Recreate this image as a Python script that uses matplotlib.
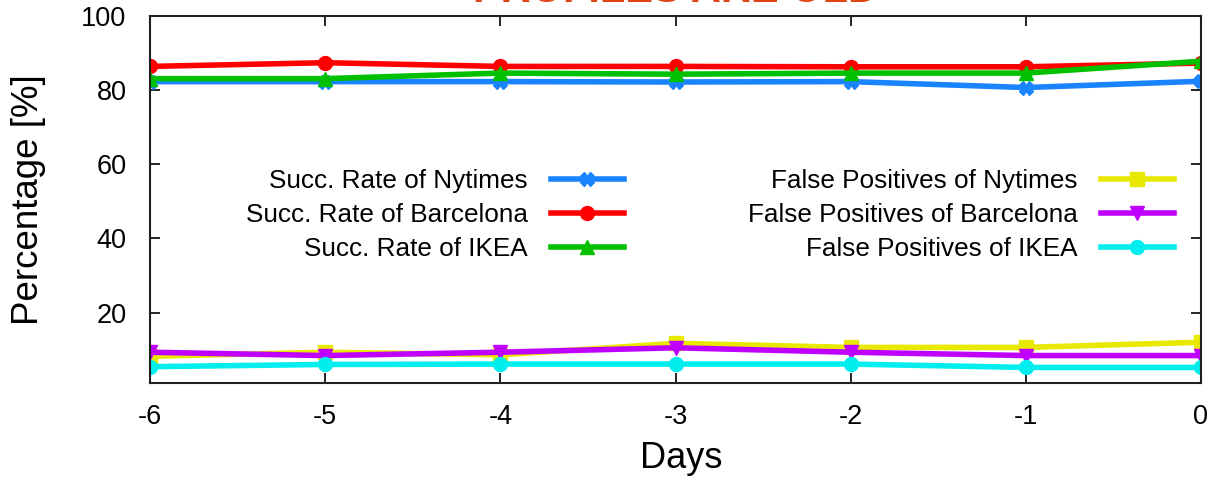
import matplotlib
matplotlib.use("Agg")
import matplotlib.pyplot as plt

days = [-6, -5, -4, -3, -2, -1, 0]

succ_nytimes = [82.3, 82.3, 82.3, 82.2, 82.3, 80.7, 82.4]
succ_barcelona = [86.4, 87.4, 86.4, 86.4, 86.3, 86.3, 87.3]
succ_ikea = [83.1, 83.1, 84.6, 84.3, 84.6, 84.6, 87.8]
fp_nytimes = [8.2, 9.3, 8.6, 11.7, 10.6, 10.6, 12.0]
fp_barcelona = [9.3, 8.4, 9.3, 10.5, 9.3, 8.4, 8.4]
fp_ikea = [5.4, 6.0, 6.1, 6.1, 6.1, 5.2, 5.2]

labels = ["Succ. Rate of Nytimes", "Succ. Rate of Barcelona", "Succ. Rate of IKEA",
          "False Positives of Nytimes", "False Positives of Barcelona", "False Positives of IKEA"]
series = [succ_nytimes, succ_barcelona, succ_ikea, fp_nytimes, fp_barcelona, fp_ikea]
colors = ["#1a84ff", "#ff0000", "#00c000", "#e8e800", "#c000ff", "#00eeee"]
markers = ["X", "o", "^", "s", "v", "o"]

plt.rcParams['font.family'] = ['Liberation Sans', 'DejaVu Sans']

fig = plt.figure(figsize=(12.09, 4.8), dpi=100)
W, H = 1209, 480
L, R, T, B = 150, 1201, 16, 383
ax = fig.add_axes([L / W, 1 - B / H, (R - L) / W, (B - T) / H])

for y, lab, c, m in zip(series, labels, colors, markers):
    ax.plot(days, y, color=c, lw=4, marker=m, markersize=10, label=lab, solid_joinstyle='miter')

ax.set_xlim(-6, 0)
ax.set_ylim(1, 100)
ax.set_xticks(days)
ax.set_xticklabels([str(d) for d in days])
ax.set_yticks([20, 40, 60, 80, 100])
ax.tick_params(direction='in', top=True, right=True, length=7, width=1.2,
               labelsize=19.5, colors='black')
ax.tick_params(axis='y', pad=17)
ax.tick_params(axis='x', pad=15)
for sp in ax.spines.values():
    sp.set_linewidth(1.5)
    sp.set_color('#202020')

ax.set_ylabel("Percentage [%]", fontsize=26.5)
ax.yaxis.set_label_coords((46 - L) / (R - L), 0.5)
ax.set_xlabel("Days", fontsize=26)
ax.xaxis.set_label_coords((681 - L) / (R - L), (B - 441) / (B - T))
ax.xaxis.label.set_va('top')

leg = ax.legend(ncols=2, markerfirst=False, frameon=False, fontsize=18.8,
                handlelength=2.8, handletextpad=0.88, columnspacing=4.75,
                labelspacing=0.38, borderpad=0, loc='center',
                bbox_to_anchor=(710 / W, 1 - 215 / H), bbox_transform=fig.transFigure)

fig.text(675 / W, 1 - 2 / H, "PROFILES ARE OLD", color="#e04418", fontsize=30,
         fontweight='bold', ha='center', va='baseline')

fig.savefig("out.png", dpi=100)
